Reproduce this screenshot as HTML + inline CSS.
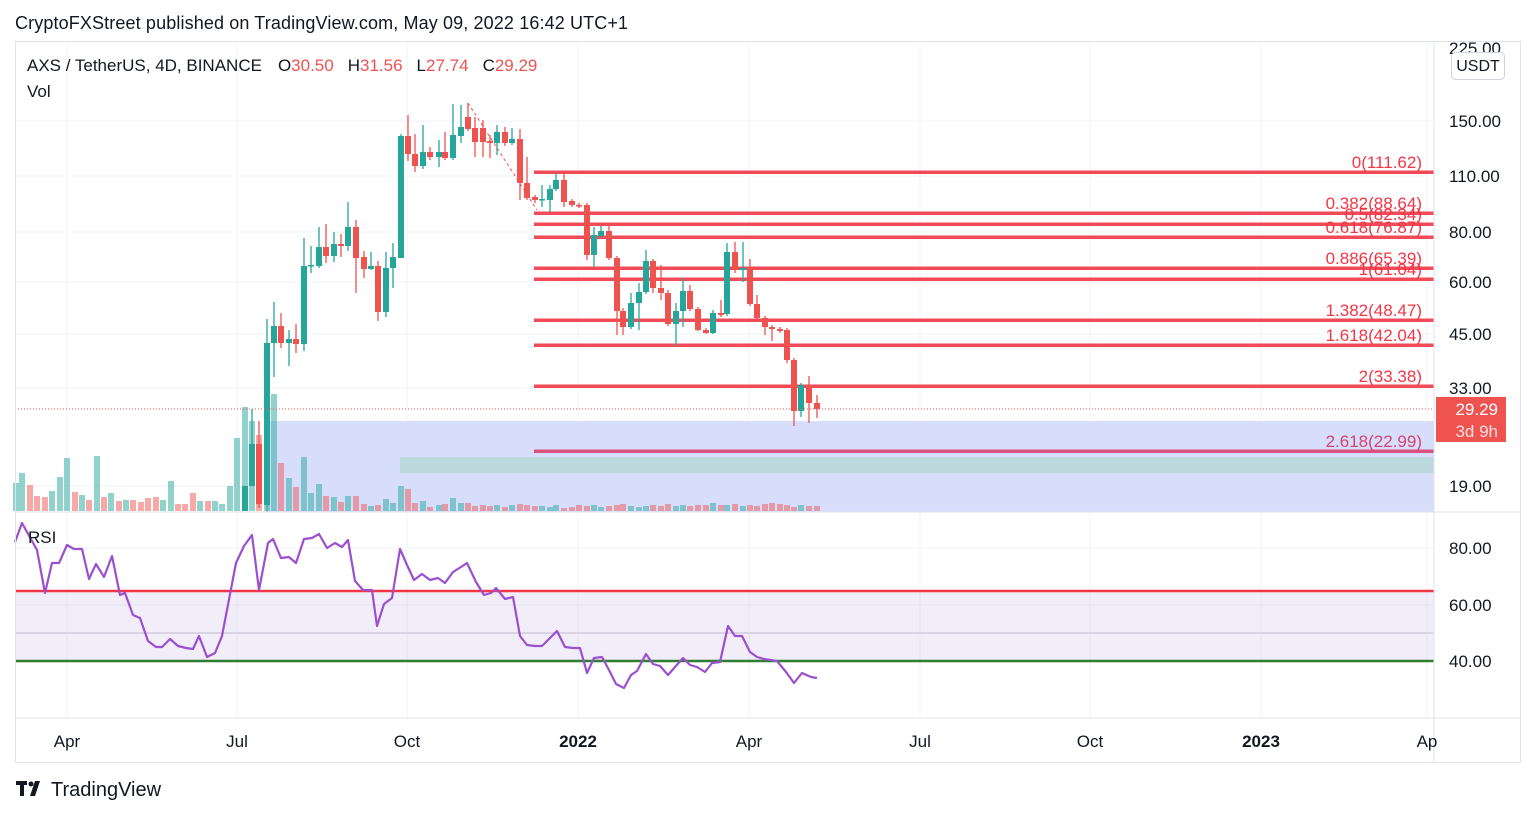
<!DOCTYPE html>
<html><head><meta charset="utf-8"><style>
html,body{margin:0;padding:0;background:#fff;width:1536px;height:816px;overflow:hidden}
svg{display:block;font-family:"Liberation Sans",sans-serif}
</style></head><body>
<svg id="s" width="1536" height="816" xmlns="http://www.w3.org/2000/svg">
<rect width="1536" height="816" fill="#fff"/>
<text x="15" y="29" font-size="18" fill="#131722" textLength="613">CryptoFXStreet published on TradingView.com, May 09, 2022 16:42 UTC+1</text>
<g id="grid" stroke="#f0f3fa" stroke-width="1"></g>
<rect x="268" y="421" width="1166" height="91" fill="#d6defc"/>
<rect x="400" y="457" width="1034" height="16" fill="#bcd8dc"/>
<g id="vol"></g>
<g id="fib"></g>
<g id="candles"></g>
<line x1="468" y1="103" x2="537" y2="210" stroke="#ef5350" stroke-width="1" stroke-dasharray="3,3"/>
<line x1="15" y1="409" x2="1434" y2="409" stroke="#ef5350" stroke-width="1" stroke-dasharray="1,2"/>
<rect x="15" y="591" width="1419" height="70" fill="#7e57c2" fill-opacity="0.1"/>
<line x1="15" y1="633" x2="1434" y2="633" stroke="#d8d4e4" stroke-width="2"/>
<line x1="15" y1="591" x2="1434" y2="591" stroke="#f23645" stroke-width="2.5"/>
<line x1="15" y1="661" x2="1434" y2="661" stroke="#2e7d32" stroke-width="2.5"/>
<polyline id="rsi" fill="none" stroke="#9c4fcf" stroke-width="2.2" stroke-linejoin="round"/>
<text x="28" y="543" font-size="17" fill="#131722">RSI</text>
<line x1="15" y1="512" x2="1520" y2="512" stroke="#e0e3eb"/>
<line x1="15" y1="718" x2="1520" y2="718" stroke="#e0e3eb"/>
<line x1="1434" y1="41" x2="1434" y2="762" stroke="#e0e3eb"/>
<rect x="15.5" y="41.5" width="1505" height="721" fill="none" stroke="#e0e3eb"/>
<g id="axis" font-size="17" fill="#131722"></g>
<rect x="1451.5" y="52.5" width="53" height="27" rx="4" fill="#fff" stroke="#d1d4dc"/>
<text x="1478" y="71" font-size="16" fill="#131722" text-anchor="middle">USDT</text>
<rect x="1436" y="397" width="70" height="45" fill="#ef5350"/>
<text x="1498" y="415" font-size="17" fill="#fff" text-anchor="end">29.29</text>
<text x="1498" y="437" font-size="17" fill="#fde0e0" text-anchor="end">3d 9h</text>
<text x="27" y="71" font-size="17" fill="#131722">AXS / TetherUS, 4D, BINANCE<tspan dx="16">O</tspan><tspan fill="#ef5350">30.50</tspan><tspan dx="14">H</tspan><tspan fill="#ef5350">31.56</tspan><tspan dx="14">L</tspan><tspan fill="#ef5350">27.74</tspan><tspan dx="14">C</tspan><tspan fill="#ef5350">29.29</tspan></text>
<text x="27" y="97" font-size="17" fill="#131722">Vol</text>
<g fill="#131722"><rect x="16" y="781" width="11" height="4"/><rect x="20" y="781" width="4" height="15"/><circle cx="31" cy="784" r="2.5"/><polygon points="35,781 40,781 35,796 30,796"/></g>
<text x="51" y="796" font-size="20" fill="#131722">TradingView</text>
</svg>
<script>
var NS="http://www.w3.org/2000/svg";
function el(p,t,a){var e=document.createElementNS(NS,t);for(var k in a)e.setAttribute(k,a[k]);document.getElementById(p).appendChild(e);return e;}
var G="#26a69a",R="#ef5350";
[121,176,232,282,334,388,486].forEach(function(y){el("grid","line",{x1:15,x2:1434,y1:y,y2:y});});
[548,605].forEach(function(y){el("grid","line",{x1:15,x2:1434,y1:y,y2:y});});
[67,237,407,578,749,920,1090,1261,1427].forEach(function(x){el("grid","line",{x1:x,x2:x,y1:41,y2:718});});
var pl=[["225.00",54],["150.00",127],["110.00",182],["80.00",238],["60.00",288],["45.00",340],["33.00",394],["19.00",492],["80.00",554],["60.00",611],["40.00",667]];
pl.forEach(function(p){var t=el("axis","text",{x:1449,y:p[1]});t.textContent=p[0];});
var tl=[["Apr",67],["Jul",237],["Oct",407],["2022",578],["Apr",749],["Jul",920],["Oct",1090],["2023",1261],["Ap",1427]];
tl.forEach(function(p){var t=el("axis","text",{x:p[1],y:747,"text-anchor":"middle"});t.textContent=p[0];if(p[0]=="2022"||p[0]=="2023")t.setAttribute("font-weight","bold");});
var fib=[[172,"0(111.62)"],[213,"0.382(88.64)"],[224,"0.5(82.34)"],[237,"0.618(76.87)"],[268,"0.886(65.39)"],[279,"1(61.04)"],[320,"1.382(48.47)"],[345,"1.618(42.04)"],[386,"2(33.38)"],[451,"2.618(22.99)"]];
fib.forEach(function(f,i){var c=i==9?"#d9416f":"#f23645";el("fib","rect",{x:534,y:f[0]-1.5,width:900,height:3.5,fill:c,"fill-opacity":0.9});
var t=el("fib","text",{x:1422,y:f[0]-4,"text-anchor":"end","font-size":17,fill:c});t.textContent=f[1];});
var C=[[245,511,486,486,511],[252,486,444,409,486],[259,444,504,421,508],[267,505,343,319,512],[274,343,326,302,377],[281,326,343,313,348],[289,343,339,330,366],[296,339,344,324,353],[304,344,266,238,351],[311,266,265,246,273],[319,266,247,227,268],[326,247,256,224,263],[334,256,244,232,262],[341,244,246,234,257],[348,246,227,202,251],[356,227,258,220,293],[364,257,269,251,278],[371,269,266,252,270],[378,266,312,261,321],[386,312,268,252,317],[393,268,257,243,288],[401,258,136,134,258],[408,136,154,115,161],[415,154,166,134,172],[423,166,152,125,169],[430,152,157,147,160],[439,157,152,140,167],[445,152,158,132,160],[453,158,135,104,160],[461,136,127,105,143],[468,117,129,103,131],[475,128,142,117,157],[483,128,142,120,157],[490,141,143,135,158],[497,143,132,125,155],[505,132,143,127,146],[512,143,139,128,145],[520,139,183,129,200],[527,183,198,157,200],[535,197,200,195,203],[542,200,199,185,207],[550,200,189,185,212],[556,189,180,173,191],[564,180,202,173,207],[572,201,205,199,207],[579,205,206,203,208],[587,205,255,203,260],[594,255,235,227,267],[601,236,231,226,238],[609,231,258,226,260],[617,258,311,256,335],[623,311,327,308,335],[631,327,303,293,329],[639,303,292,283,330],[646,292,261,250,294],[653,261,288,259,293],[661,288,293,265,300],[668,293,324,290,326],[676,324,311,303,346],[683,311,291,278,327],[690,291,309,285,311],[698,309,330,307,331],[706,330,333,328,334],[713,333,313,310,334],[721,313,315,300,317],[727,314,252,243,316],[735,252,270,242,273],[743,270,268,242,282],[750,268,304,259,306],[757,304,318,295,320],[765,318,327,316,335],[772,327,329,325,341],[780,329,331,327,333],[787,330,360,328,363],[794,360,411,358,426],[801,411,385,383,417],[809,385,403,376,423],[817,403,409,395,418]];
C.forEach(function(c){var col=c[2]>c[1]?R:G;var top=Math.min(c[1],c[2]),h=Math.max(Math.abs(c[2]-c[1]),1.5);
el("candles","line",{x1:c[0],x2:c[0],y1:c[3],y2:c[4],stroke:col,"stroke-width":1.3});
el("candles","rect",{x:c[0]-3,y:top,width:6,height:h,fill:col});});
var V=[[16,483,G],[22,473,G],[30,485,R],[37,496,R],[45,497,R],[52,491,G],[60,477,G],[67,458,G],[75,492,R],[82,495,G],[89,500,R],[97,456,G],[104,497,R],[111,493,G],[119,501,R],[126,500,G],[133,500,R],[141,502,R],[148,498,R],[156,497,R],[163,500,G],[171,481,G],[178,504,R],[185,504,R],[193,493,R],[200,501,G],[208,501,R],[215,501,G],[222,504,G],[230,486,G],[237,438,G],[245,407,G],[252,421,G],[259,435,R],[267,420,G],[274,394,G],[281,463,R],[289,478,G],[296,487,R],[304,457,G],[311,493,G],[319,484,G],[326,496,R],[334,497,G],[341,502,R],[348,496,G],[356,496,R],[364,504,R],[371,506,G],[378,505,R],[386,499,G],[393,503,G],[401,486,G],[408,489,R],[415,503,R]];
var hs=[501,507,505,504,498,503,503,506,505,506,505,507,505,504,505,506,506,507,505,508,507,505,506,505,507,506,505,504,506,507,506,505,506,504,506,505,506,505,505,503,505,505,504,506,505,506,504,503,504,505,507,505,506,506,506,503,505,505,503,504,505,507,505,504,506,505,506];
var k=0;C.forEach(function(c){if(c[0]>415){V.push([c[0],hs[k%hs.length],c[2]>c[1]?R:G]);k++;}});
V.forEach(function(v){el("vol","rect",{x:v[0]-3,y:v[1],width:6,height:511-v[1],fill:v[2],"fill-opacity":0.5});});
var P="15,542 22,523 37,550 45,593 52,563 59,563 67,545 74,549 82,549 89,579 96,564 104,577 112,556 120,595 125,593 133,615 140,618 148,641 156,647 162,647 170,639 178,646 186,648 193,649 199,636 207,657 215,653 222,636 236,563 244,546 252,535 259,590 268,543 273,539 281,558 289,557 296,563 304,539 312,538 319,534 327,548 335,543 342,547 348,540 355,581 363,590 372,590 377,626 384,604 392,598 400,549 407,565 414,580 422,574 430,580 438,578 445,583 453,572 461,567 467,563 476,582 484,595 491,593 496,588 505,599 513,597 520,636 527,645 535,646 542,646 550,638 557,631 565,647 573,648 580,648 587,673 594,658 602,657 609,670 616,684 624,688 631,675 637,671 646,654 653,664 660,666 668,675 675,667 683,658 690,665 697,667 705,672 712,663 720,662 728,626 735,636 742,636 750,652 757,657 764,659 777,661 786,672 794,683 802,673 811,677 817,678";
document.getElementById("rsi").setAttribute("points",P);
</script>
</body></html>
